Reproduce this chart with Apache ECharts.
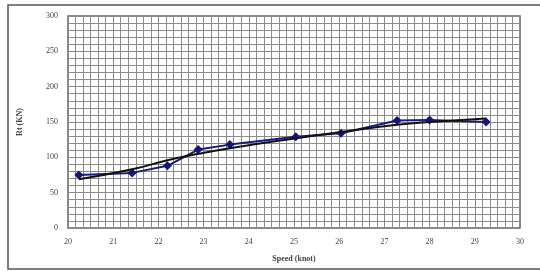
<!DOCTYPE html>
<html>
<head>
<meta charset="utf-8">
<script src="https://cdn.jsdelivr.net/npm/echarts@6/dist/echarts.min.js"></script>
<style>
  html, body { margin: 0; padding: 0; background: #fff; }
  #chart { width: 540px; height: 271px; }
</style>
</head>
<body>
<div id="chart"></div>
<script>
// speed (knot) of each measured point
const speed = [20.24, 21.42, 22.2, 22.88, 23.58, 25.04, 26.04, 27.28, 28.0, 29.25]
// measured resistance Rt (KN)
const rtMeasured = [75, 78, 88, 111, 118, 129, 134, 152, 153, 150]
// fitted trend at the same speeds
const rtTrend = [69, 83, 96, 105, 113, 127, 136, 146, 150, 155]

const chart = echarts.init(document.getElementById('chart'))
const labelFont = 'Liberation Serif'

const option = {
    backgroundColor: '#fff',
    animation: false,
    graphic: [
        {
            type: 'rect',
            shape: { x: 8, y: 5, width: 540, height: 264 },
            style: { fill: 'none', stroke: '#555', lineWidth: 1.5 }
        }
    ],
    grid: {
        left: 68,
        right: 20,
        top: 16,
        bottom: 43,
        show: true,
        borderColor: '#666',
        borderWidth: 1.5
    },
    xAxis: {
        type: 'value',
        min: 20,
        max: 30,
        interval: 1,
        name: 'Speed (knot)',
        nameLocation: 'middle',
        nameGap: 27,
        nameTextStyle: { fontFamily: labelFont, fontSize: 8, fontWeight: 'bold', color: '#444' },
        axisLine: { show: false },
        axisTick: { show: false },
        axisLabel: { fontFamily: labelFont, fontSize: 8, color: '#444', margin: 10 },
        splitLine: { show: true, lineStyle: { color: '#888', width: 1 } },
        minorTick: { show: false, splitNumber: 6 },
        minorSplitLine: { show: true, lineStyle: { color: '#8c8c8c', width: 1 } }
    },
    yAxis: {
        type: 'value',
        min: 0,
        max: 300,
        interval: 50,
        name: 'Rt (KN)',
        nameLocation: 'middle',
        nameGap: 44,
        nameRotate: 90,
        nameTextStyle: { fontFamily: labelFont, fontSize: 8, fontWeight: 'bold', color: '#444' },
        axisLine: { show: false },
        axisTick: { show: false },
        axisLabel: { fontFamily: labelFont, fontSize: 8, color: '#444', margin: 10 },
        splitLine: { show: true, lineStyle: { color: '#888', width: 1 } },
        minorTick: { show: false, splitNumber: 5 },
        minorSplitLine: { show: true, lineStyle: { color: '#8c8c8c', width: 1 } }
    },
    series: [
        {
            type: 'line',
            data: speed.map((s, i) => [s, rtMeasured[i]]),
            symbol: 'diamond',
            symbolSize: 9,
            lineStyle: { color: '#1a1a80', width: 2 },
            itemStyle: { color: '#14147a' },
            z: 3
        },
        {
            type: 'line',
            data: speed.map((s, i) => [s, rtTrend[i]]),
            smooth: true,
            showSymbol: false,
            lineStyle: { color: '#111', width: 2 },
            z: 4
        }
    ]
}

chart.setOption(option)
</script>
</body>
</html>
